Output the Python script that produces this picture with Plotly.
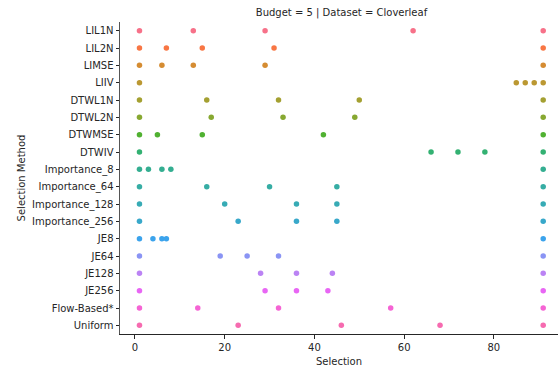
import math
import numpy as np
import plotly.graph_objects as go

methods = ["LIL1N", "LIL2N", "LIMSE", "LIIV", "DTWL1N", "DTWL2N", "DTWMSE", "DTWIV",
           "Importance_8", "Importance_64", "Importance_128", "Importance_256",
           "JE8", "JE64", "JE128", "JE256", "Flow-Based*", "Uniform"]

selections = [
    [1, 13, 29, 62, 91],
    [1, 7, 15, 31, 91],
    [1, 6, 13, 29, 91],
    [1, 85, 87, 89, 91],
    [1, 16, 32, 50, 91],
    [1, 17, 33, 49, 91],
    [1, 5, 15, 42, 91],
    [1, 66, 72, 78, 91],
    [1, 3, 6, 8, 91],
    [1, 16, 30, 45, 91],
    [1, 20, 36, 45, 91],
    [1, 23, 36, 45, 91],
    [1, 4, 6, 7, 91],
    [1, 19, 25, 32, 91],
    [1, 28, 36, 44, 91],
    [1, 29, 36, 43, 91],
    [1, 14, 32, 57, 91],
    [1, 23, 46, 68, 91],
]

x_ticks = [0, 20, 40, 60, 80]
title_text = "Budget = 5 | Dataset = Cloverleaf"


# seaborn husl palette
M = [[3.2406, -1.5372, -0.4986], [-0.9689, 1.8758, 0.0415], [0.0557, -0.2040, 1.0570]]
refU, refV, refY = 0.19784, 0.46834, 1.0
kappa, eps = 903.2962962962963, 0.0088564516790356308


def max_chroma(L, H):
    hrad = math.radians(H)
    sinH, cosH = math.sin(hrad), math.cos(hrad)
    sub1 = (L + 16) ** 3 / 1560896.0
    sub2 = sub1 if sub1 > eps else L / kappa
    result = float("inf")
    for m1, m2, m3 in M:
        top = (0.99915 * m1 + 1.05122 * m2 + 1.14460 * m3) * sub2
        rb = 0.86330 * m3 - 0.17266 * m2
        lb = 0.12949 * m3 - 0.38848 * m1
        bottom = (rb * sinH + lb * cosH) * sub2
        for t in (0.0, 1.0):
            C = L * (top - 1.05122 * t) / (bottom + 0.17266 * sinH * t)
            if 0 < C < result:
                result = C
    return result


def husl_to_hex(H, S, L):
    C = max_chroma(L, H) / 100.0 * S
    hrad = math.radians(H)
    U, V = math.cos(hrad) * C, math.sin(hrad) * C
    Y = refY * ((L + 16) / 116.0) ** 3 if L > 8 else refY * L / kappa
    vu = U / (13 * L) + refU
    vv = V / (13 * L) + refV
    X = -(9 * Y * vu) / ((vu - 4) * vv - vu * vv)
    Z = (9 * Y - 15 * vv * Y - vv * X) / (3 * vv)
    out = []
    for row in M:
        c = row[0] * X + row[1] * Y + row[2] * Z
        c = 12.92 * c if c <= 0.0031308 else 1.055 * c ** (1 / 2.4) - 0.055
        c = min(max(c, 0.0), 1.0)
        out.append(int(round(c * 255)))
    return "#%02x%02x%02x" % tuple(out)


n = len(methods)
hues = (np.linspace(0, 1, n + 1)[:-1] + 0.01) % 1 * 359
colors = [husl_to_hex(h, 0.9 * 99, 0.65 * 99) for h in hues]

fig = go.Figure()
for name, xs, col in zip(methods, selections, colors):
    fig.add_trace(go.Scatter(
        x=xs, y=[name] * len(xs), mode="markers",
        marker=dict(size=5.5, color=col, line=dict(width=0)),
        showlegend=False, cliponaxis=False,
    ))

font = dict(family="DejaVu Sans", size=10, color="#262626")
fig.update_layout(
    width=558, height=371,
    margin=dict(l=120, r=0, t=22, b=37),
    paper_bgcolor="white", plot_bgcolor="white",
    font=font,
    title=dict(text=title_text, x=341.5 / 558, xanchor="center", y=1 - 12.5 / 371,
               yanchor="middle", font=dict(family="DejaVu Sans", size=10, color="#262626")),
)
fig.update_xaxes(
    range=[-3.34, 94.3], tickvals=x_ticks, ticks="outside", ticklen=3.5, tickwidth=0.8,
    tickcolor="#262626", showline=True, linecolor="#262626", linewidth=1,
    showgrid=False, zeroline=False, title=dict(text="Selection", standoff=6, font=font),
)
fig.update_yaxes(
    type="category", categoryorder="array", categoryarray=methods,
    range=[n - 0.5, -0.5], ticks="outside", ticklen=3.5, tickwidth=0.8,
    tickcolor="#262626", showline=True, linecolor="#555555", linewidth=1,
    showgrid=False, zeroline=False, title=dict(text="Selection Method", standoff=4, font=font),
)

fig.write_html("out.html")
